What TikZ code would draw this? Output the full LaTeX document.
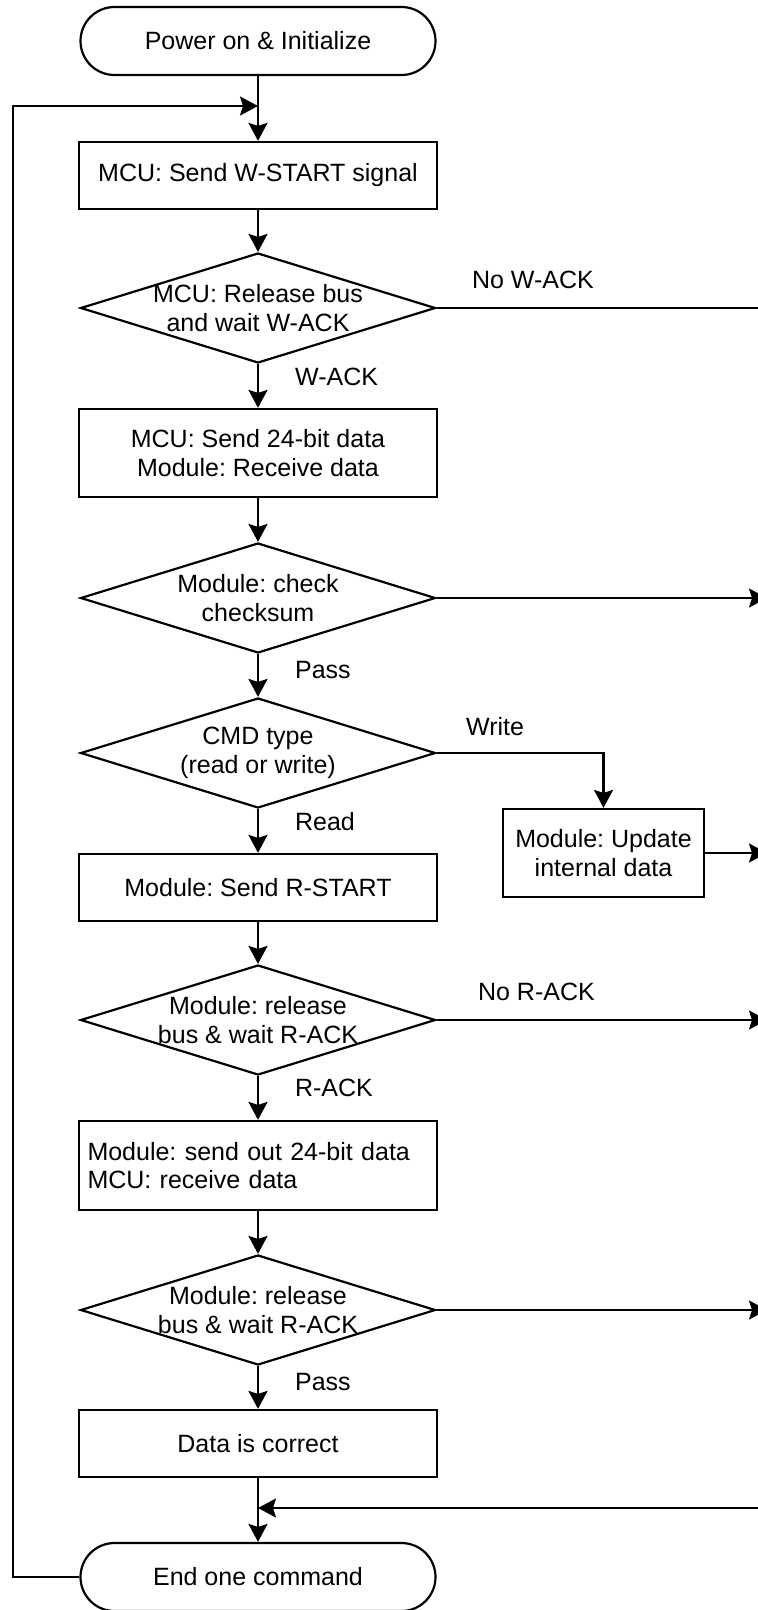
\documentclass[tikz,border=0pt]{standalone}
\usepackage{fontspec}
\setmainfont{Liberation Sans}
\frenchspacing
\usetikzlibrary{arrows.meta,shapes.geometric}

\begin{document}
\begin{tikzpicture}[x=1pt,y=-1pt,
  line width=2.2pt,
  every node/.style={font=\fontsize{25}{28.75}\selectfont, inner sep=0pt},
  term/.style={draw, rectangle, rounded corners=34pt, minimum width=355pt, minimum height=68pt},
  proc/.style={draw, rectangle, minimum width=358pt, align=center},
  dia/.style={draw, diamond, minimum width=355pt, minimum height=110pt},
  dtext/.style={align=center},
  lab/.style={anchor=west, text height=0.72em, text depth=0pt},
  flow/.style={-{Stealth[length=18pt,width=19pt,inset=3pt]}},
]
% page frame (the right-hand exits run off the edge)
\clip (0,0) rectangle (758,1610);

% main column
\node[term] (start) at (258,41) {Power on \& Initialize};
\node[proc, minimum height=67pt] (b1) at (258,175.5) {MCU: Send W-START signal};
\node[dia, label={[dtext]center:{MCU: Release bus\\and wait W-ACK}}] (d1) at (258,308) {};
\node[proc, minimum height=88pt] (b2) at (258,453) {MCU: Send 24-bit data\\Module: Receive data};
\node[dia, label={[dtext]center:{Module: check\\checksum}}] (d2) at (258,598) {};
\node[dia, label={[dtext]center:{CMD type\\(read or write)}}] (d3) at (258,753) {};
\node[proc, minimum width=201pt, minimum height=88pt] (upd) at (603.5,853) {Module: Update\\internal data};
\node[proc, minimum height=67pt] (rs) at (258,887.5) {Module: Send R-START};
\node[dia, label={[dtext]center:{Module: release\\bus \& wait R-ACK}}] (d4) at (258,1020) {};
\node[proc, minimum height=89pt, text width=341pt, align=left, inner xsep=8.5pt] (b4) at (258,1165.5)
  {Module: send out 24-bit data\\MCU: receive data};
\node[dia, label={[dtext]center:{Module: release\\bus \& wait R-ACK}}] (d5) at (258,1310) {};
\node[proc, minimum height=67pt] (b5) at (258,1443.5) {Data is correct};
\node[term] (end) at (258,1577) {End one command};

% branch labels
\node[lab] (lnowack) at (471,285) {No W-ACK};
\node[lab] (lwack) at (294,382) {W-ACK};
\node[lab] (lpass1) at (294,675) {Pass};
\node[lab] (lwrite) at (465,732) {Write};
\node[lab] (lread) at (294,827) {Read};
\node[lab] (lnorack) at (477,997) {No R-ACK};
\node[lab] (lrack) at (294,1093) {R-ACK};
\node[lab] (lpass2) at (294,1387) {Pass};

% junction and exit points
\coordinate (loopin) at (258,106);
\coordinate (lc1) at (13,1577);
\coordinate (lc2) at (13,106);
\coordinate (merge) at (258,1508);
\coordinate (mergein) at (775,1508);
\coordinate (e1) at (775,308);
\coordinate (e2) at (767,598);
\coordinate (e3) at (767,853);
\coordinate (e4) at (767,1020);
\coordinate (e5) at (767,1310);

% main flow
\draw[flow] (start) -- (b1);
\draw[flow] (b1) -- (d1);
\draw[flow] (d1) -- (b2);
\draw[flow] (b2) -- (d2);
\draw[flow] (d2) -- (d3);
\draw[flow] (d3) -- (rs);
\draw[flow] (rs) -- (d4);
\draw[flow] (d4) -- (b4);
\draw[flow] (b4) -- (d5);
\draw[flow] (d5) -- (b5);
\draw[flow] (b5) -- (end);

% side exits
\draw (d1.east) -- (e1);
\draw[flow] (d2.east) -- (e2);
\draw[flow] (d3.east) -| (upd.north);
\draw[flow] (upd.east) -- (e3);
\draw[flow] (d4.east) -- (e4);
\draw[flow] (d5.east) -- (e5);
\draw[flow] (mergein) -- (merge);

% return loop
\draw[flow] (end.west) -- (lc1) -- (lc2) -- (loopin);
\end{tikzpicture}
\end{document}
